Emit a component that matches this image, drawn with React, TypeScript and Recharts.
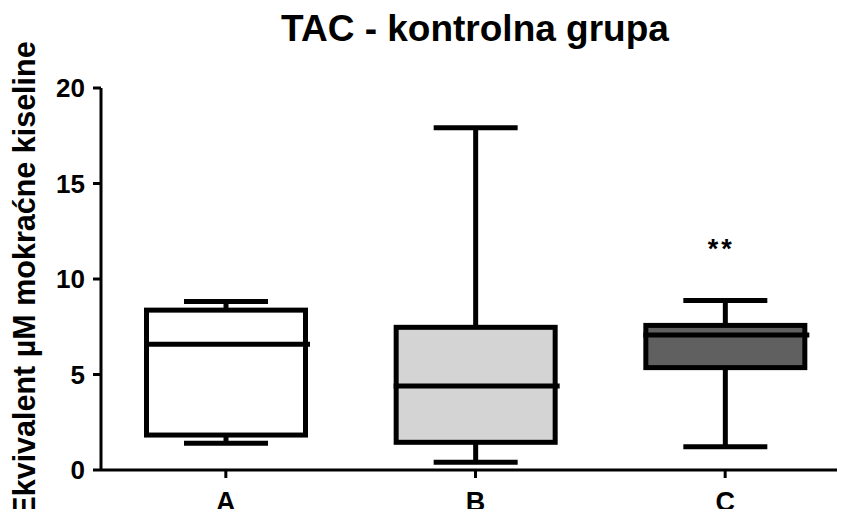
import React from "react";
import { ComposedChart, Bar, XAxis, YAxis, Label } from "recharts";

const groups = ["A", "B", "C"];
const minVals = [1.4, 0.4, 1.22];
const q1Vals = [1.83, 1.45, 5.36];
const medianVals = [6.58, 4.4, 7.07];
const q3Vals = [8.37, 7.47, 7.57];
const maxVals = [8.82, 17.92, 8.87];
const marks = ["", "", "**"];
const yTicks = [0, 5, 10, 15, 20];

const fills = ["#ffffff", "#d4d4d4", "#606060"];
const FONT = "'Liberation Sans', Arial, sans-serif";

const data = groups.map((name, i) => ({
  name,
  min: minVals[i],
  q1: q1Vals[i],
  median: medianVals[i],
  q3: q3Vals[i],
  max: maxVals[i],
  mark: marks[i],
  fill: fills[i],
  range: [minVals[i], maxVals[i]],
}));

const BoxShape = (props: any) => {
  const { x, y, width, height, payload } = props;
  const top = Math.min(y, y + height);
  const h = Math.abs(height);
  const span = payload.max - payload.min;
  const py = (v: number) => top + ((payload.max - v) / span) * h;
  const cx = x + width / 2;
  const capHalf = 42;
  const sw = 5;
  return (
    <g>
      <line x1={cx} x2={cx} y1={py(payload.max)} y2={py(payload.q3)} stroke="#000" strokeWidth={sw} />
      <line x1={cx} x2={cx} y1={py(payload.q1)} y2={py(payload.min)} stroke="#000" strokeWidth={sw} />
      <line x1={cx - capHalf} x2={cx + capHalf} y1={py(payload.max)} y2={py(payload.max)} stroke="#000" strokeWidth={sw} />
      <line x1={cx - capHalf} x2={cx + capHalf} y1={py(payload.min)} y2={py(payload.min)} stroke="#000" strokeWidth={sw} />
      <rect
        x={x + sw / 2}
        y={py(payload.q3)}
        width={width - sw}
        height={py(payload.q1) - py(payload.q3)}
        fill={payload.fill}
        stroke="#000"
        strokeWidth={sw}
      />
      <line x1={x} x2={x + width + 2} y1={py(payload.median)} y2={py(payload.median)} stroke="#000" strokeWidth={sw} />
      {payload.mark ? (
        <text
          x={cx - 4}
          y={py(payload.max) - 43}
          textAnchor="middle"
          fontSize={27}
          fontWeight={700}
          fontFamily={FONT}
          letterSpacing={3}
          fill="#000"
        >
          {payload.mark}
        </text>
      ) : null}
    </g>
  );
};

export default function App() {
  return (
    <div style={{ position: "relative", margin: -8, width: 845, height: 517, overflow: "hidden", background: "#fff" }}>
      <div
        style={{
          position: "absolute",
          left: 0,
          top: 11,
          width: 950,
          textAlign: "center",
          fontFamily: FONT,
          fontWeight: 700,
          fontSize: 37,
          lineHeight: "36px",
          color: "#000",
        }}
      >
        TAC - kontrolna grupa
      </div>
      <ComposedChart
        width={850}
        height={517}
        data={data}
        margin={{ top: 88, right: 0, left: 0, bottom: 0 }}
      >
        <XAxis
          dataKey="name"
          height={47}
          axisLine={{ stroke: "#000", strokeWidth: 3 }}
          tickLine={{ stroke: "#000", strokeWidth: 3 }}
          tickSize={8}
          tickMargin={14}
          tick={{ fill: "#000", fontSize: 27, fontWeight: 700, fontFamily: FONT }}
        />
        <YAxis
          width={101}
          domain={[0, 20]}
          ticks={yTicks}
          interval={0}
          axisLine={{ stroke: "#000", strokeWidth: 3 }}
          tickLine={{ stroke: "#000", strokeWidth: 3 }}
          tickSize={8}
          tickMargin={8}
          tick={{ fill: "#000", fontSize: 26, fontWeight: 700, fontFamily: FONT }}
        >
          <Label
            content={() => (
              <text
                x={35}
                y={279}
                transform="rotate(-90 35 279)"
                textAnchor="middle"
                fontSize={30.5}
                fontWeight={700}
                fontFamily={FONT}
                fill="#000"
              >
                Ekvivalent µM mokraćne kiseline
              </text>
            )}
          />
        </YAxis>
        <Bar dataKey="range" barSize={164} shape={BoxShape} isAnimationActive={false} />
      </ComposedChart>
    </div>
  );
}
